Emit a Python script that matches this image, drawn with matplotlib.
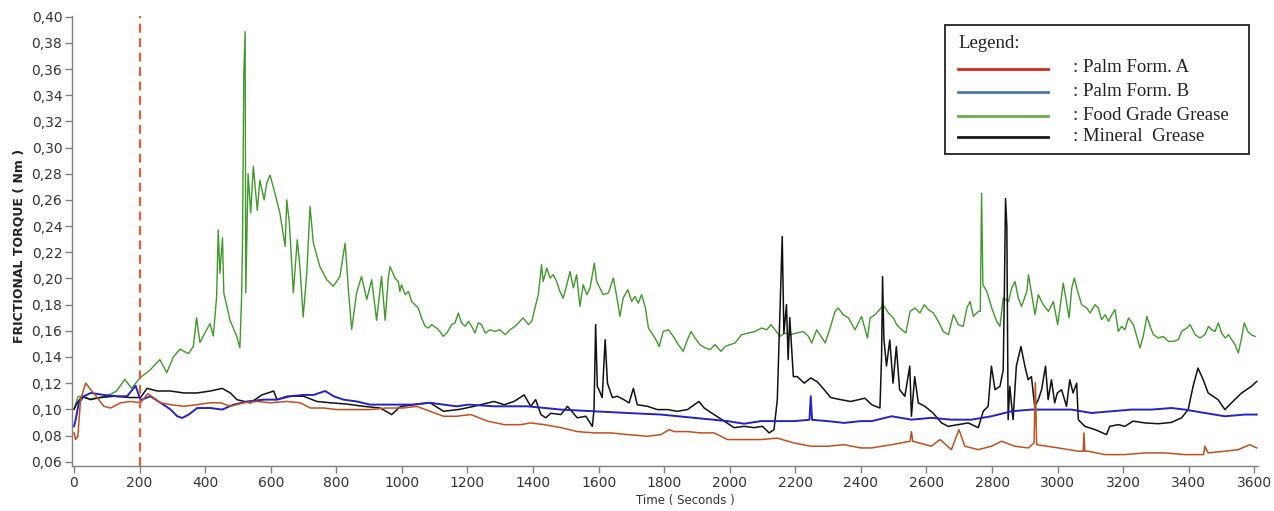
import matplotlib
matplotlib.use("Agg")
import matplotlib.pyplot as plt
from matplotlib.ticker import FuncFormatter, MultipleLocator
from matplotlib.lines import Line2D
from matplotlib.patches import Rectangle

W, H = 1274, 511

# Food Grade Grease (green)
green_t = [0, 13, 49, 100, 130, 155, 176, 201, 232, 262, 283, 303, 323, 349, 364, 374, 384, 405, 415, 425,
           435, 440, 445, 453, 457, 476, 496, 506, 511, 514, 518, 522, 524, 531, 539, 547, 559, 567, 580, 588,
           598, 613, 628, 644, 649, 657, 669, 681, 689, 699, 710, 720, 730, 750, 771, 791, 811, 827, 837, 847,
           862, 877, 893, 908, 923, 938, 949, 959, 964,
           979, 989, 994, 999, 1010, 1020, 1030, 1040, 1050, 1060, 1071, 1081, 1091, 1106, 1116, 1126, 1137,
           1152, 1162, 1172, 1182, 1193, 1203, 1213, 1223, 1233, 1243, 1254, 1269, 1284, 1299, 1315, 1330,
           1345, 1360, 1370, 1386, 1396, 1406, 1416, 1426, 1431, 1442, 1452, 1462, 1472, 1482, 1492, 1503,
           1513, 1523, 1533, 1543, 1553, 1564, 1574, 1587, 1594, 1604, 1614, 1630, 1645,
           1658, 1665, 1675, 1689, 1701, 1711, 1721, 1731, 1742, 1752, 1762, 1772, 1785, 1797, 1813, 1828,
           1843, 1858, 1869, 1882, 1894, 1909, 1925, 1940, 1955, 1973, 1986, 2001, 2016, 2036, 2057, 2077,
           2097, 2113, 2126, 2138, 2153, 2168, 2184, 2204, 2224, 2240, 2250, 2265, 2275, 2291, 2306,
           2321, 2331, 2346, 2362, 2382, 2402, 2420, 2428, 2443, 2461, 2468, 2484, 2499, 2509, 2524, 2537,
           2550, 2565, 2580, 2593, 2606, 2621, 2636, 2651, 2667, 2682, 2697, 2712, 2723, 2733, 2743, 2758,
           2764, 2768, 2772, 2784, 2799, 2814, 2824, 2834, 2850, 2860, 2870, 2880, 2890, 2906, 2911, 2921,
           2931, 2941, 2956, 2972, 2987,
           3000, 3007, 3017, 3028, 3035, 3043, 3051, 3061, 3073, 3089, 3099, 3114, 3124, 3134, 3145, 3155,
           3165, 3175, 3185, 3195, 3205, 3216, 3231, 3241, 3251, 3261, 3272, 3282, 3292, 3307, 3322, 3338,
           3353, 3368, 3378, 3394, 3404, 3419, 3434, 3449, 3460, 3470, 3480, 3490, 3500, 3511, 3521, 3531,
           3541, 3551, 3561, 3569, 3580, 3590, 3602]
green_v = [0.100, 0.110, 0.108, 0.110, 0.114, 0.123, 0.116, 0.124, 0.130, 0.138, 0.128, 0.140, 0.146, 0.1425,
           0.148, 0.170, 0.151, 0.161, 0.1655, 0.156, 0.186, 0.237, 0.204, 0.231, 0.189, 0.168, 0.156, 0.147,
           0.184, 0.227, 0.357, 0.3885, 0.189, 0.280, 0.250, 0.2855, 0.252, 0.275, 0.260, 0.273, 0.279, 0.265,
           0.250, 0.2245, 0.260, 0.242, 0.189, 0.2295, 0.209, 0.1705, 0.204, 0.255, 0.227, 0.209, 0.199, 0.194,
           0.2015, 0.227, 0.191, 0.161, 0.189, 0.2015, 0.184, 0.199, 0.168, 0.2015, 0.168, 0.2015, 0.209,
           0.2003, 0.1977, 0.1901, 0.1952, 0.1876, 0.1901, 0.1824, 0.1799, 0.1774, 0.1698, 0.1634, 0.1621,
           0.1647, 0.1621, 0.1595, 0.1557, 0.1583, 0.1647, 0.166, 0.1736, 0.166, 0.1634, 0.1672, 0.1634, 0.1583,
           0.166, 0.1647, 0.1583, 0.1608, 0.1595, 0.1608, 0.1570, 0.1608, 0.1634, 0.1672, 0.1698, 0.1647,
           0.1672, 0.1774, 0.1876, 0.2105, 0.1977, 0.2079, 0.2003, 0.2028, 0.1977, 0.1901, 0.1850, 0.1952,
           0.2053, 0.1927, 0.2028, 0.1786, 0.1952, 0.1876, 0.1927, 0.2117, 0.1977, 0.1927, 0.1876, 0.189,
           0.2003,
           0.1824, 0.171, 0.1850, 0.1914, 0.1824, 0.1863, 0.1811, 0.1876, 0.1786, 0.1621, 0.1583, 0.1545,
           0.1481, 0.1595, 0.1608, 0.1557, 0.1494, 0.1443, 0.1519, 0.1595, 0.1545, 0.1494, 0.1469, 0.1456,
           0.1494, 0.1443, 0.1481, 0.1494, 0.1507, 0.1570, 0.1583, 0.1595, 0.1621, 0.1608, 0.1647, 0.1608,
           0.1557, 0.1583, 0.1570, 0.1583, 0.1595, 0.1557, 0.1507, 0.1608, 0.1570, 0.1507, 0.1621,
           0.1748, 0.1774, 0.1723, 0.1698, 0.1608, 0.171, 0.1545, 0.1698, 0.1723, 0.1774, 0.1799, 0.1736,
           0.1698, 0.1647, 0.1608, 0.1583, 0.1748, 0.1774, 0.1736, 0.1799, 0.1761, 0.1736, 0.1672, 0.1595,
           0.1570, 0.1723, 0.1647, 0.1634, 0.1774, 0.1824, 0.171, 0.1748,
           0.1748, 0.265, 0.1952, 0.1901, 0.1774, 0.1672, 0.1634, 0.1850, 0.1824, 0.1927, 0.1977, 0.1850,
           0.1786, 0.1901, 0.2028, 0.1876, 0.1723, 0.1876, 0.1799, 0.1748, 0.1824,
           0.1647, 0.1774, 0.1964, 0.1799, 0.1698, 0.1927, 0.2003, 0.1901, 0.1799, 0.1774, 0.1736, 0.1799,
           0.1774, 0.1685, 0.1723, 0.1672, 0.1723, 0.1761, 0.1595, 0.1634, 0.1608, 0.1698, 0.1647, 0.1557,
           0.1469, 0.1557, 0.171, 0.1634, 0.1570, 0.1545, 0.1557, 0.1519, 0.1519, 0.1532, 0.1595, 0.1621,
           0.1647, 0.1570, 0.1545, 0.1570, 0.1634, 0.1608, 0.1595, 0.166, 0.1583, 0.1545, 0.1570, 0.1532,
           0.1494, 0.1430, 0.1545, 0.166, 0.1595, 0.1570, 0.1557]

# Mineral Grease (black)
black_t = [0, 10, 25, 50, 81, 122, 173, 203, 223, 254, 294, 335, 375, 416, 452, 477, 497, 538, 573, 609,
           619, 650, 700, 741, 782, 832, 883, 934, 969, 995, 1045, 1086, 1127, 1177, 1220, 1281, 1312, 1342,
           1373, 1393, 1408, 1424, 1439, 1454, 1485, 1505, 1535, 1561, 1581, 1586, 1591, 1596, 1601, 1611,
           1620, 1627, 1642, 1657, 1677, 1693, 1706, 1718, 1749, 1779, 1810, 1840, 1871, 1906, 1922, 1952,
           1983, 2013, 2044, 2074, 2100, 2120, 2135, 2145, 2153, 2160, 2165, 2173, 2178, 2183, 2194, 2206,
           2227, 2247, 2267, 2288, 2308, 2338, 2369, 2412, 2433, 2458, 2463, 2466, 2470, 2478, 2488, 2498,
           2508, 2518, 2534, 2549, 2554, 2564, 2575, 2595, 2620, 2646, 2666, 2697, 2727, 2758, 2773, 2788,
           2798, 2809, 2824, 2834, 2838, 2841, 2845, 2849, 2854, 2864, 2874, 2888, 2900, 2910, 2920, 2930,
           2941, 2951, 2963, 2971, 2981, 2991, 2999, 3012, 3027, 3037, 3047, 3058, 3063, 3083, 3114, 3149,
           3159, 3185, 3205, 3230, 3266, 3307, 3347, 3378, 3398, 3413, 3428, 3444, 3459, 3474, 3489, 3510,
           3530, 3561, 3591, 3607]
black_v = [0.100, 0.105, 0.110, 0.1074, 0.109, 0.110, 0.109, 0.109, 0.116, 0.114, 0.114, 0.1125, 0.1125,
           0.114, 0.116, 0.1125, 0.1074, 0.1049, 0.111, 0.114, 0.1074, 0.110, 0.110, 0.106, 0.105, 0.104,
           0.1023, 0.101, 0.096, 0.102, 0.104, 0.105, 0.0985, 0.100, 0.1023, 0.106, 0.1035, 0.106, 0.111,
           0.1023, 0.1074, 0.096, 0.0935, 0.097, 0.096, 0.1023, 0.0935, 0.0947, 0.087, 0.0998, 0.1647,
           0.1176, 0.115, 0.109, 0.1532, 0.120, 0.109, 0.110, 0.1074, 0.1049, 0.116, 0.1035, 0.1023, 0.0998,
           0.0998, 0.0985, 0.0998, 0.106, 0.101, 0.096, 0.091, 0.086, 0.087, 0.086, 0.087, 0.082, 0.0845,
           0.1074, 0.174, 0.232, 0.158, 0.180, 0.138, 0.170, 0.125, 0.125, 0.120, 0.124, 0.121, 0.115, 0.109,
           0.1074, 0.106, 0.1085, 0.1035, 0.101, 0.1405, 0.2015, 0.154, 0.133, 0.153, 0.120, 0.148, 0.115,
           0.110, 0.133, 0.0947, 0.125, 0.1049, 0.1023, 0.0972, 0.0896, 0.087, 0.0883, 0.0896, 0.086, 0.0985,
           0.1023, 0.133, 0.115, 0.1176, 0.130, 0.200, 0.261, 0.240, 0.0921, 0.1176, 0.0921, 0.133, 0.148,
           0.133, 0.1226, 0.125, 0.1023, 0.1074, 0.115, 0.133, 0.1074, 0.1226, 0.1049, 0.1125, 0.115, 0.1023,
           0.1226, 0.1125, 0.120, 0.0921, 0.087, 0.0845, 0.0807, 0.087, 0.0883, 0.087, 0.091, 0.0896, 0.089,
           0.090, 0.0935, 0.0998, 0.1176, 0.1315, 0.1226, 0.1125, 0.110, 0.1074, 0.0998, 0.1049, 0.1125,
           0.1176, 0.1213]

# Palm Form. B (blue)
blue_t = [0, 5, 15, 30, 51, 91, 132, 162, 188, 203, 233, 264, 294, 315, 330, 350, 376, 416, 452, 487, 528,
          579, 619, 660, 700, 731, 766, 792, 822, 863, 903, 944, 985, 1035, 1086, 1127, 1167, 1203, 1281,
          1383, 1485, 1586, 1688, 1790, 1891, 1993, 2044, 2095, 2196, 2243, 2247, 2251, 2298, 2349, 2399,
          2433, 2494, 2554, 2615, 2676, 2737, 2798, 2859, 2920, 2981, 3042, 3103, 3164, 3225, 3286, 3347,
          3388, 3449, 3510, 3571, 3607]
blue_v = [0.087, 0.092, 0.105, 0.110, 0.1125, 0.111, 0.110, 0.110, 0.118, 0.107, 0.110, 0.105, 0.100,
          0.0947, 0.0934, 0.096, 0.101, 0.101, 0.0998, 0.1036, 0.106, 0.1074, 0.1074, 0.110, 0.111, 0.111,
          0.114, 0.110, 0.1074, 0.106, 0.1036, 0.1036, 0.1036, 0.1036, 0.105, 0.1036, 0.1023, 0.1036, 0.1023,
          0.1023, 0.0998, 0.0985, 0.0972, 0.096, 0.0935, 0.091, 0.089, 0.091, 0.091, 0.092, 0.110, 0.092,
          0.091, 0.0896, 0.091, 0.091, 0.0947, 0.0921, 0.0935, 0.0921, 0.0921, 0.0947, 0.0985, 0.0998, 0.0998,
          0.0998, 0.0972, 0.0985, 0.0998, 0.0998, 0.101, 0.0998, 0.0972, 0.0947, 0.096, 0.096]

# Palm Form. A (red / brown)
red_t = [0, 5, 12, 20, 36, 51, 71, 91, 112, 142, 173, 203, 225, 264, 294, 335, 376, 416, 447, 477, 518, 558,
         599, 650, 690, 721, 761, 802, 853, 903, 954, 1005, 1045, 1086, 1127, 1167, 1210, 1261, 1312, 1363,
         1393, 1434, 1485, 1535, 1586, 1637, 1688, 1749, 1790, 1815, 1830, 1871, 1911, 1952, 1993, 2044, 2095,
         2145, 2196, 2247, 2298, 2349, 2399, 2433, 2494, 2550, 2554, 2558, 2615, 2641, 2676, 2699, 2717, 2758,
         2798, 2829, 2869, 2910, 2928, 2932, 2936, 3002, 3063, 3078, 3080, 3083, 3093, 3144, 3205, 3266, 3327,
         3388, 3445, 3449, 3459, 3510, 3551, 3586, 3607]
red_v = [0.082, 0.0769, 0.0795, 0.1074, 0.120, 0.115, 0.109, 0.1023, 0.101, 0.105, 0.106, 0.105, 0.112,
         0.105, 0.1036, 0.1023, 0.1036, 0.105, 0.105, 0.1023, 0.105, 0.106, 0.105, 0.106, 0.105, 0.101, 0.101,
         0.0998, 0.0998, 0.0998, 0.101, 0.101, 0.1023, 0.0985, 0.0947, 0.0947, 0.096, 0.091, 0.0883, 0.0883,
         0.0896, 0.0883, 0.086, 0.083, 0.082, 0.082, 0.0807, 0.0794, 0.0807, 0.0845, 0.083, 0.083, 0.082,
         0.082, 0.0769, 0.0769, 0.0769, 0.078, 0.0743, 0.0718, 0.0718, 0.073, 0.0705, 0.0705, 0.073, 0.0756,
         0.083, 0.0756, 0.0718, 0.0769, 0.0692, 0.0845, 0.0718, 0.0692, 0.0718, 0.0756, 0.0718, 0.0705,
         0.0743, 0.1205, 0.073, 0.0705, 0.068, 0.068, 0.082, 0.068, 0.068, 0.0654, 0.0654, 0.0667, 0.0667,
         0.0654, 0.0654, 0.0718, 0.0667, 0.068, 0.0692, 0.073, 0.0705]

legend_labels = [": Palm Form. A", ": Palm Form. B", ": Food Grade Grease", ": Mineral  Grease"]
legend_colors = ["#d42a20", "#4a78ad", "#6aae4a", "#1a1a1a"]


def fig_xy(x, y):
    """pixel position -> figure fraction"""
    return x / W, 1 - y / H


def draw_legend(fig):
    """legend box drawn by hand, like the pasted one in the original"""
    x0, y0 = fig_xy(945, 154)
    fig.add_artist(Rectangle((x0, y0), (1249 - 945) / W, (154 - 25) / H, transform=fig.transFigure,
                             facecolor="white", edgecolor="#222222", lw=1.3, zorder=5))
    fig.text(*fig_xy(958, 44), "Legend:", family="Liberation Serif", size=13.5, va="center",
             color="#222222", zorder=6)
    rows = [69, 92.5, 116, 137.5]
    for y, c, lab in zip(rows, legend_colors, legend_labels):
        fig.add_artist(Line2D([958 / W, 1048 / W], [1 - y / H] * 2, transform=fig.transFigure,
                              color=c, lw=2, zorder=6))
        fig.text(*fig_xy(1073, y - 1), lab, family="Liberation Serif", size=13.5, va="center",
                 color="#222222", zorder=6)


def main():
    fig = plt.figure(figsize=(W / 100, H / 100), dpi=100)
    ax = fig.add_axes([72 / W, 1 - 466 / H, (1258 - 72) / W, (466 - 16) / H])

    ax.plot(green_t, green_v, color="#3f9a2a", lw=1.0)
    ax.plot(black_t, black_v, color="#111111", lw=1.1)
    ax.plot(blue_t, blue_v, color="#2323c8", lw=1.4)
    ax.plot(red_t, red_v, color="#c0501e", lw=1.1)
    ax.axvline(200, color="#e0603a", ls=(0, (4, 2.5)), lw=1.6)

    ax.set_xlim(-6, 3611)
    ax.set_ylim(0.0567, 0.4005)
    ax.xaxis.set_major_locator(MultipleLocator(200))
    ax.yaxis.set_major_locator(MultipleLocator(0.02))
    ax.yaxis.set_major_formatter(FuncFormatter(lambda v, p: f"{v:.2f}".replace(".", ",")))

    for s in ["top", "right"]:
        ax.spines[s].set_visible(False)
    for s in ["left", "bottom"]:
        ax.spines[s].set_color("#808080")
        ax.spines[s].set_linewidth(1.0)
    ax.tick_params(colors="#808080", labelcolor="#333333", labelsize=10, length=5, width=1, pad=2)

    ax.set_xlabel("Time ( Seconds )", fontsize=8.5, color="#333333")
    ax.xaxis.set_label_coords(0.517, -0.076)
    ax.xaxis.label.set_va("center")
    ax.set_ylabel("FRICTIONAL TORQUE ( Nm )", fontsize=9, fontweight="bold", color="#222222")
    ax.yaxis.set_label_coords(-0.045, 0.49)
    ax.yaxis.label.set_va("center")

    draw_legend(fig)

    plt.savefig("out.png", dpi=100)
    plt.close()


if __name__ == "__main__":
    main()
